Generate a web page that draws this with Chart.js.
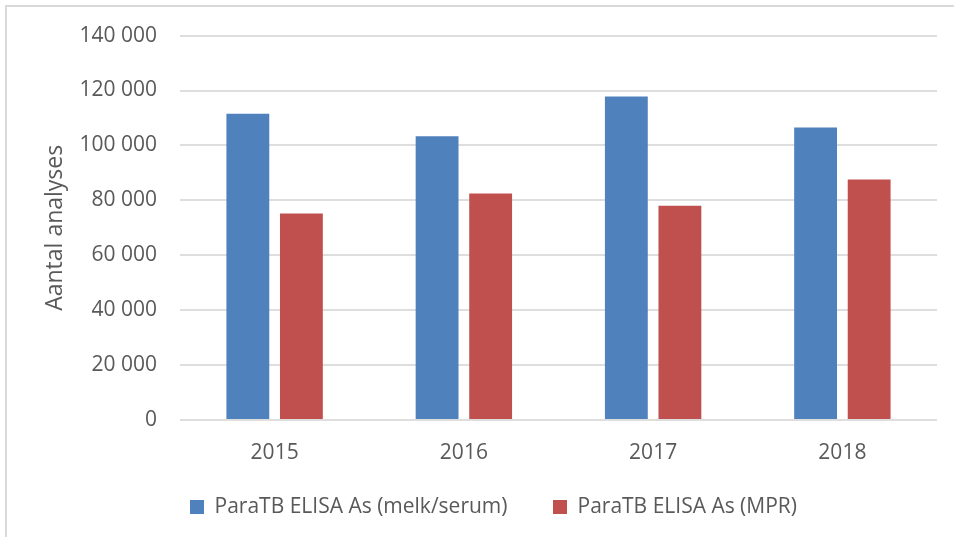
<!DOCTYPE html>
<html>
<head>
<meta charset="utf-8">
<script src="https://cdn.jsdelivr.net/npm/chart.js@4.4.0/dist/chart.umd.min.js"></script>
<style>
  html, body { margin: 0; padding: 0; background: #fff; }
  #wrap { position: relative; width: 954px; height: 537px; }
  #frame { position: absolute; left: 5px; top: 5px; right: 0; bottom: 0;
           border-top: 2px solid #d9d9d9; border-left: 2px solid #d9d9d9; pointer-events: none; }
  canvas { position: absolute; left: 0; top: 0; }
</style>
</head>
<body>
<div id="wrap">
  <canvas id="c" width="954" height="537"></canvas>
  <div id="frame"></div>
</div>
<script>
const categories = ['2015', '2016', '2017', '2018'];
const seriesMelkSerum = [111500, 103300, 117800, 106500];
const seriesMPR = [75200, 82500, 78000, 87600];
const seriesNames = ['ParaTB ELISA As (melk/serum)', 'ParaTB ELISA As (MPR)'];
const yTickLabels = ['0', '20 000', '40 000', '60 000', '80 000', '100 000', '120 000', '140 000'];
const yAxisTitle = 'Aantal analyses';

const FONT = "'Open Sans', 'Liberation Sans', sans-serif";
const TXT = '#595959';
const LEGEND_TOP = 451;
const LEGEND_SHIFT_X = 4;

const legendPlace = {
  id: 'legendPlace',
  afterInit(chart) {
    const lg = chart.legend;
    if (!lg) return;
    const orig = lg.fit.bind(lg);
    lg.fit = function () { orig(); this.height = 69; };
  },
  afterLayout(chart) {
    const lg = chart.legend;
    if (!lg) return;
    const h = lg.height;
    lg.top = LEGEND_TOP;
    lg.bottom = LEGEND_TOP + h;
    lg.left += LEGEND_SHIFT_X;
    lg.right += LEGEND_SHIFT_X;
    if (lg.adjustHitBoxes) lg.adjustHitBoxes();
  }
};

new Chart(document.getElementById('c'), {
  type: 'bar',
  data: {
    labels: categories,
    datasets: [
      { label: seriesNames[0], data: seriesMelkSerum, backgroundColor: '#4F81BD',
        categoryPercentage: 0.566, barPercentage: 0.8 },
      { label: seriesNames[1], data: seriesMPR, backgroundColor: '#C0504D',
        categoryPercentage: 0.566, barPercentage: 0.8 }
    ]
  },
  options: {
    responsive: false,
    animation: false,
    layout: { padding: { left: 42, right: 17, top: 35, bottom: 0 } },
    plugins: {
      tooltip: { enabled: false },
      legend: {
        position: 'bottom',
        labels: {
          font: { family: FONT, size: 21 },
          color: TXT,
          boxWidth: 14,
          boxHeight: 14,
          padding: 45.5
        }
      }
    },
    scales: {
      x: {
        grid: { display: false },
        border: { display: false },
        ticks: { font: { family: FONT, size: 21 }, color: TXT, padding: 12 },
        afterFit(scale) { scale.height = 48; }
      },
      y: {
        min: 0,
        max: 140000,
        ticks: {
          stepSize: 20000,
          font: { family: FONT, size: 21 },
          color: TXT,
          padding: 23,
          callback: function (value) { return yTickLabels[Math.round(value / 20000)]; }
        },
        grid: { color: '#dedede', lineWidth: 2, drawTicks: false },
        border: { display: false },
        title: {
          display: true,
          text: yAxisTitle,
          font: { family: FONT, size: 23 },
          color: TXT,
          padding: 0
        },
        afterFit(scale) { scale.width = 138; }
      }
    }
  },
  plugins: [legendPlace]
});
</script>
</body>
</html>
